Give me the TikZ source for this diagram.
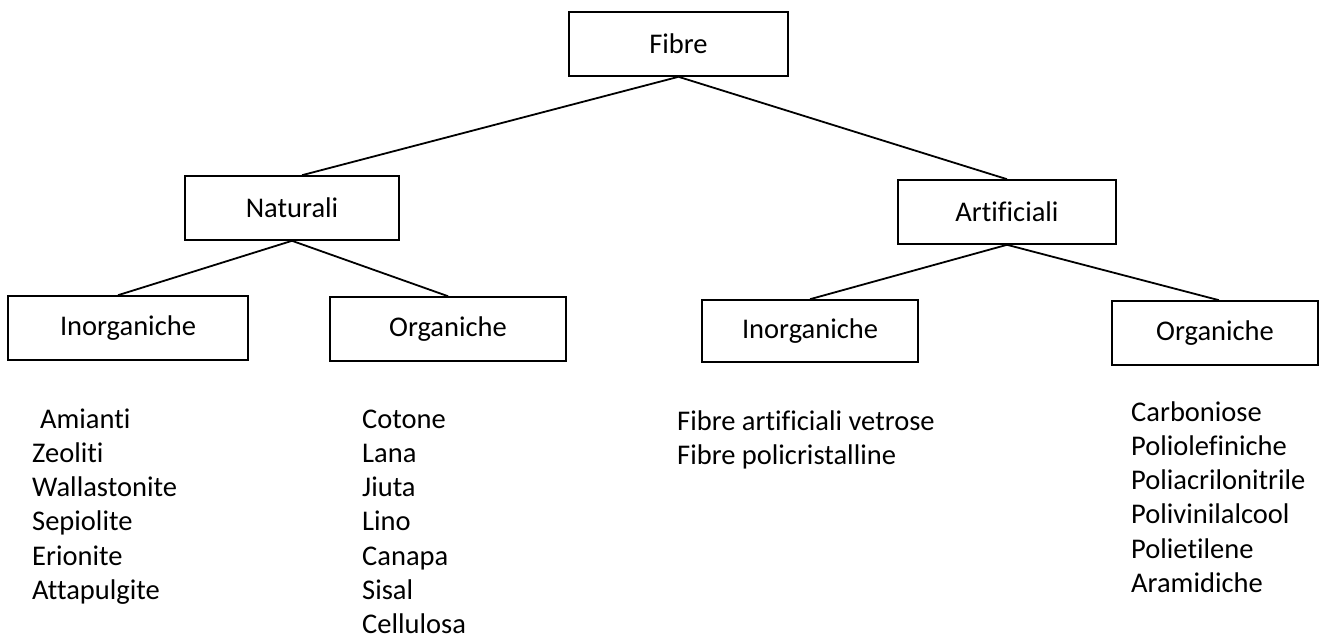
\documentclass[tikz,border=0pt]{standalone}
\usepackage{fontspec}
\setmainfont{Carlito}[Ligatures={NoCommon}]
\begin{document}
\begin{tikzpicture}[x=1pt,y=-1pt,
  box/.style={draw, line width=1.6pt, inner sep=0pt, font=\fontsize{28.5}{34}\selectfont},
  item/.style={inner sep=0pt, anchor=base west, font=\fontsize{28.5}{34}\selectfont},
  link/.style={line width=1.8pt}]
\fill[white] (0,0) rectangle (1320,643);
\useasboundingbox (0,0) rectangle (1320,643);

\node[box, minimum width=219pt, minimum height=64pt] (fibre) at (678.5,44) {Fibre};
\node[box, minimum width=214pt, minimum height=64pt] (nat) at (292,208) {Naturali};
\node[box, minimum width=218pt, minimum height=64pt] (art) at (1007,212) {Artificiali};
\node[box, minimum width=240pt, minimum height=64pt] (inL) at (128,328) {Inorganiche};
\node[box, minimum width=236pt, minimum height=64pt] (orgL) at (448,329) {Organiche};
\node[box, minimum width=216pt, minimum height=62pt] (inR) at (810,331) {Inorganiche};
\node[box, minimum width=206pt, minimum height=64pt] (orgR) at (1215,333) {Organiche};

\draw[link] (fibre.south) -- ([xshift=10pt]nat.north);
\draw[link] (fibre.south) -- (art.north);
\draw[link] (nat.south) -- ([xshift=-10pt]inL.north);
\draw[link] (nat.south) -- (orgL.north);
\draw[link] (art.south) -- (inR.north);
\draw[link] (art.south) -- ([xshift=4pt]orgR.north);

\node[item] (a1) at (40,428) {Amianti};
\foreach \t [count=\i] in {Zeoliti,Wallastonite,Sepiolite,Erionite,Attapulgite}
  \node[item] (a\i x) at (32,{428+34.3*\i}) {\t};
\foreach \t [count=\i from 0] in {Cotone,Lana,Jiuta,Lino,Canapa,Sisal,Cellulosa}
  \node[item] (b\i) at (362,{428+34.3*\i}) {\t};
\foreach \t [count=\i from 0] in {Fibre artificiali vetrose,Fibre policristalline}
  \node[item] (c\i) at (677,{430+34.3*\i}) {\t};
\foreach \t [count=\i from 0] in {Carboniose,Poliolefiniche,Poliacrilonitrile,Polivinilalcool,Polietilene,Aramidiche}
  \node[item] (d\i) at (1131,{421+34.3*\i}) {\t};
\end{tikzpicture}
\end{document}
